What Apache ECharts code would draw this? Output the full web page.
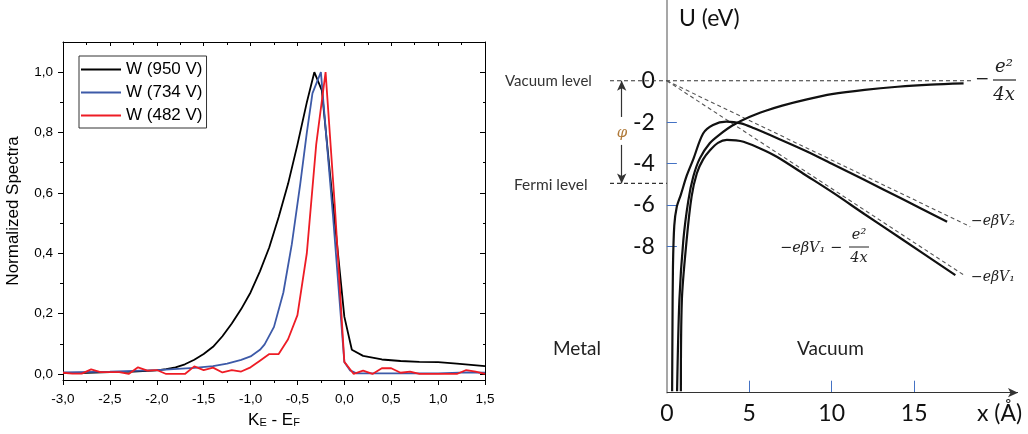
<!DOCTYPE html>
<html><head><meta charset="utf-8">
<script src="https://cdn.jsdelivr.net/npm/echarts@6/dist/echarts.min.js"></script>
<style>html,body{margin:0;padding:0;background:#fff}#c{width:1028px;height:434px}</style>
</head><body><div id="c"></div>
<script>
// ---------- Left panel: normalized spectra ----------
const seriesNames = ['W (950 V)', 'W (734 V)', 'W (482 V)'];
const blackX = [-3.0,-2.75,-2.5,-2.25,-2.0,-1.9,-1.8,-1.7,-1.6,-1.5,-1.4,-1.3,-1.2,-1.1,-1.0,-0.9,-0.8,-0.7,-0.6,-0.5,-0.4,-0.32,-0.24,-0.12,0.0,0.08,0.2,0.4,0.6,0.8,1.0,1.2,1.5];
const blackY = [0.003,0.004,0.006,0.008,0.012,0.016,0.022,0.032,0.047,0.066,0.09,0.125,0.167,0.215,0.27,0.34,0.42,0.52,0.63,0.76,0.9,1.0,0.94,0.56,0.19,0.08,0.06,0.048,0.043,0.04,0.039,0.034,0.026];
const blueX = [-3.0,-2.5,-2.0,-1.6,-1.4,-1.25,-1.1,-1.0,-0.9,-0.85,-0.75,-0.65,-0.56,-0.47,-0.40,-0.34,-0.25,-0.12,0.0,0.06,0.13,0.5,1.0,1.3,1.5];
const blueY = [0.005,0.008,0.013,0.02,0.026,0.034,0.047,0.058,0.08,0.098,0.156,0.27,0.43,0.63,0.8,0.93,1.0,0.52,0.04,0.012,0.002,0.002,0.002,0.005,0.004];
const redX = [-3.0,-2.9,-2.8,-2.7,-2.6,-2.5,-2.4,-2.3,-2.2,-2.1,-2.0,-1.9,-1.8,-1.7,-1.6,-1.5,-1.4,-1.3,-1.2,-1.1,-1.0,-0.9,-0.8,-0.7,-0.6,-0.5,-0.4,-0.3,-0.2,-0.1,0.0,0.1,0.2,0.3,0.4,0.5,0.6,0.7,0.8,0.9,1.0,1.1,1.2,1.3,1.4,1.5];
const redY = [0.004,0.001,0.001,0.015,0.006,0.006,0.006,0.0,0.022,0.011,0.013,0.0,0.0,0.0,0.025,0.013,0.021,0.005,0.013,0.008,0.022,0.044,0.066,0.066,0.115,0.195,0.40,0.76,1.0,0.55,0.04,0.0,0.011,0.0,0.019,0.019,0.004,0.008,0.0,0.0,0.0,0.0,0.0,0.013,0.008,0.0];
const leftYMajor = [0, 0.2, 0.4, 0.6, 0.8, 1.0];
const leftYMinor = [0.1, 0.3, 0.5, 0.7, 0.9];

// ---------- Right panel: potential energy diagram ----------
const imageX = [0.62,0.76,1.0,1.3,1.6,2.0,2.6,3.2,4.0,5.0,6.0,7.0,8.5,10.0,12.0,14.0,16.0,18.0];
const imageU = [-15,-10.6,-7.7,-5.8,-4.64,-3.75,-3.02,-2.6,-2.15,-1.75,-1.45,-1.2,-0.9,-0.65,-0.44,-0.29,-0.19,-0.13];
const v2X = [0.32,0.34,0.37,0.45,0.6,0.85,1.2,1.6,2.2,2.8,3.6,4.5,5.3,6.7,8.5,10.1,12.0,14.2,17.0];
const v2U = [-15,-12,-9,-7,-6.1,-5.5,-4.6,-3.8,-2.55,-2.14,-1.98,-2.06,-2.3,-2.78,-3.42,-4.05,-4.8,-5.68,-6.81];
const v1X = [0.85,0.91,1.2,1.5,1.82,2.2,2.63,3.1,3.64,4.2,4.65,5.66,6.67,8.5,10.1,12.0,14.2,17.5];
const v1U = [-15,-10.6,-7.7,-5.6,-4.47,-3.8,-3.35,-3.0,-2.86,-2.88,-2.95,-3.27,-3.67,-4.6,-5.42,-6.45,-7.62,-9.39];
const lineV2 = [[0, 0], [18.4, -7.05]];
const lineV1 = [[0, 0], [18.1, -9.43]];
const vacuumLevel = [[-3.45, 0], [18.57, 0]];
const fermiLevel = [[-3.45, -4.96], [0, -4.96]];
const phiX = -2.74;
const rightYLabels = [0, -2, -4, -6, -8];
const rightYTicks = [-2, -4, -6, -8];
const rightXLabels = [0, 5, 10, 15];
const rightXTicks = [5, 10, 15];
const uMin = -15.07, uMax = 3.9, xMin = -10, xMax = 21.3;

const zip = (xs, ys) => xs.map((x, i) => [x, ys[i]]);
const sans = '"Liberation Sans", Arial, sans-serif';
const calib = 'Lato, "Open Sans", sans-serif';
const mathF = '"DejaVu Serif", serif';
const comma = v => v.toFixed(1).replace('.', ',');
const blueTick = '#4472c4';

const g1 = {left: 502, right: 10, top: 0, bottom: 434 - 392.7};
const g1Width = 1028 - g1.left - g1.right;
// place the potential axis on x = 0 of the distance axis
const yAxisShift = -(0 - xMin) / (xMax - xMin) * g1Width;

const chart = echarts.init(document.getElementById('c'), null, {renderer: 'canvas'});
const option = {
  animation: false,
  backgroundColor: '#fff',
  grid: [
    {left: 63, right: 1028 - 485, top: 42, bottom: 434 - 380},
    g1
  ],
  legend: {
    left: 79, top: 56, orient: 'vertical', data: seriesNames, icon: 'rect',
    borderColor: '#333', borderWidth: 1, borderRadius: 0, padding: [5, 4, 4, 2],
    itemWidth: 40, itemHeight: 2, itemGap: 6,
    textStyle: {fontSize: 17, lineHeight: 15, fontFamily: sans, color: '#000'}
  },
  xAxis: [
    {gridIndex: 0, type: 'value', min: -3, max: 1.5, interval: 0.5, position: 'bottom',
     axisLine: {onZero: false, lineStyle: {color: '#000', width: 1}},
     axisTick: {length: 5, lineStyle: {color: '#000'}},
     minorTick: {show: true, splitNumber: 2, length: 3, lineStyle: {color: '#000'}},
     splitLine: {show: false},
     axisLabel: {formatter: comma, margin: 12, fontSize: 13.5, fontFamily: sans, color: '#000'},
     name: '{a|K}{s|E}{a| - E}{s|F}', nameLocation: 'middle', nameGap: 32,
     nameTextStyle: {rich: {
       a: {fontSize: 17, fontFamily: sans, color: '#000', padding: [0, 0, 5, 0]},
       s: {fontSize: 11, fontFamily: sans, color: '#000'}
     }}},
    {gridIndex: 0, type: 'value', min: -3, max: 1.5, interval: 0.5, position: 'top',
     axisLine: {onZero: false, lineStyle: {color: '#000', width: 1}},
     axisTick: {inside: true, length: 4, lineStyle: {color: '#000'}},
     minorTick: {show: true, splitNumber: 2, length: 3, lineStyle: {color: '#000'}},
     splitLine: {show: false}, axisLabel: {show: false}},
    {gridIndex: 1, type: 'value', min: xMin, max: xMax, position: 'bottom',
     axisLine: {show: false, onZero: false},
     axisTick: {customValues: rightXTicks, inside: true, length: 12, lineStyle: {color: blueTick, width: 1}},
     axisLabel: {customValues: rightXLabels, margin: 9, fontSize: 23, fontFamily: calib, color: '#111'},
     splitLine: {show: false}}
  ],
  yAxis: [
    {gridIndex: 0, type: 'value', min: -0.02, max: 1.1, position: 'left',
     axisLine: {show: true, onZero: false, lineStyle: {color: '#000', width: 1}},
     axisTick: {customValues: leftYMajor, length: 5, lineStyle: {color: '#000'}},
     axisLabel: {customValues: leftYMajor, formatter: comma, margin: 10, fontSize: 13.5, fontFamily: sans, color: '#000'},
     splitLine: {show: false},
     name: 'Normalized Spectra', nameLocation: 'middle', nameGap: 41,
     nameTextStyle: {fontSize: 17, fontFamily: sans, color: '#000'}},
    {gridIndex: 0, type: 'value', min: -0.02, max: 1.1, position: 'left',
     axisLine: {show: false, onZero: false},
     axisTick: {customValues: leftYMinor, length: 3, lineStyle: {color: '#000'}},
     axisLabel: {show: false}, splitLine: {show: false}},
    {gridIndex: 0, type: 'value', min: -0.02, max: 1.1, position: 'right',
     axisLine: {show: true, onZero: false, lineStyle: {color: '#000', width: 1}},
     axisTick: {customValues: leftYMajor, inside: true, length: 5, lineStyle: {color: '#000'}},
     axisLabel: {show: false}, splitLine: {show: false}},
    {gridIndex: 0, type: 'value', min: -0.02, max: 1.1, position: 'right',
     axisLine: {show: false, onZero: false},
     axisTick: {customValues: leftYMinor, inside: true, length: 2, lineStyle: {color: '#000'}},
     axisLabel: {show: false}, splitLine: {show: false}},
    {gridIndex: 1, type: 'value', min: uMin, max: uMax, position: 'left', offset: yAxisShift,
     axisLine: {show: true, onZero: false, lineStyle: {color: '#8a8a8a', width: 1.5}},
     axisTick: {customValues: rightYTicks, inside: true, length: 10, lineStyle: {color: blueTick, width: 1}},
     axisLabel: {customValues: rightYLabels, margin: 12, fontSize: 23, fontFamily: calib, color: '#111'},
     splitLine: {show: false}}
  ],
  series: [
    {name: seriesNames[0], type: 'line', xAxisIndex: 0, yAxisIndex: 0, data: zip(blackX, blackY),
     symbol: 'none', lineStyle: {color: '#000', width: 1.8}, itemStyle: {color: '#000'}},
    {name: seriesNames[1], type: 'line', xAxisIndex: 0, yAxisIndex: 0, data: zip(blueX, blueY),
     symbol: 'none', lineStyle: {color: '#3d5aa8', width: 1.8}, itemStyle: {color: '#3d5aa8'}},
    {name: seriesNames[2], type: 'line', xAxisIndex: 0, yAxisIndex: 0, data: zip(redX, redY),
     symbol: 'none', lineStyle: {color: '#ee1c25', width: 1.8}, itemStyle: {color: '#ee1c25'}},
    // right panel
    {type: 'line', xAxisIndex: 2, yAxisIndex: 4, data: vacuumLevel, symbol: 'none', silent: true,
     lineStyle: {color: '#333', width: 1.1, type: [4, 3]}},
    {type: 'line', xAxisIndex: 2, yAxisIndex: 4, data: fermiLevel, symbol: 'none', silent: true,
     lineStyle: {color: '#333', width: 1.1, type: [4, 3]}},
    {type: 'line', xAxisIndex: 2, yAxisIndex: 4, data: lineV2, symbol: 'none', silent: true,
     lineStyle: {color: '#555', width: 1.1, type: [4, 3]}},
    {type: 'line', xAxisIndex: 2, yAxisIndex: 4, data: lineV1, symbol: 'none', silent: true,
     lineStyle: {color: '#555', width: 1.1, type: [4, 3]}},
    {type: 'line', xAxisIndex: 2, yAxisIndex: 4, data: zip(imageX, imageU), symbol: 'none', silent: true,
     smooth: 0.3, lineStyle: {color: '#111', width: 2.2}},
    {type: 'line', xAxisIndex: 2, yAxisIndex: 4, data: zip(v2X, v2U), symbol: 'none', silent: true,
     smooth: 0.3, lineStyle: {color: '#111', width: 2.2}},
    {type: 'line', xAxisIndex: 2, yAxisIndex: 4, data: zip(v1X, v1U), symbol: 'none', silent: true,
     smooth: 0.3, lineStyle: {color: '#111', width: 2.2}},
    {type: 'line', xAxisIndex: 2, yAxisIndex: 4, data: [], symbol: 'none', silent: true,
     markLine: {silent: true, symbol: ['none', 'arrow'], symbolSize: [7, 10], label: {show: false},
       lineStyle: {color: '#333', width: 1.2, type: 'solid'},
       data: [
         [{coord: [phiX, -1.75]}, {coord: [phiX, 0]}],
         [{coord: [phiX, -3.1]}, {coord: [phiX, -4.96]}],
         [{coord: [0, uMin]}, {coord: [xMax, uMin]}]
       ]}}
  ],
  graphic: [
    {type: 'text', x: 679, y: 19, style: {text: 'U (eV)', font: '23px ' + calib, fill: '#111', verticalAlign: 'middle'}},
    {type: 'text', x: 505, y: 81, style: {text: 'Vacuum level', font: '15px ' + calib, fill: '#333', verticalAlign: 'middle'}},
    {type: 'text', x: 514, y: 185, style: {text: 'Fermi level', font: '15.5px ' + calib, fill: '#333', verticalAlign: 'middle'}},
    {type: 'text', x: 553, y: 349, style: {text: 'Metal', font: '19px ' + calib, fill: '#222', verticalAlign: 'middle'}},
    {type: 'text', x: 797, y: 349, style: {text: 'Vacuum', font: '19px ' + calib, fill: '#222', verticalAlign: 'middle'}},
    {type: 'text', x: 977, y: 414, style: {text: 'x (Å)', font: '23px ' + calib, fill: '#111', verticalAlign: 'middle'}},
    {type: 'text', x: 622, y: 133, style: {text: 'φ', font: 'italic 15px ' + mathF, fill: '#b07a3a', align: 'center', verticalAlign: 'middle'}},
    // -e^2/4x
    {type: 'text', x: 982, y: 80, style: {text: '−', font: '17px ' + mathF, fill: '#222', align: 'center', verticalAlign: 'middle'}},
    {type: 'text', x: 1004, y: 67, style: {text: 'e²', font: 'italic 18px ' + mathF, fill: '#222', align: 'center', verticalAlign: 'middle'}},
    {type: 'line', shape: {x1: 993, y1: 80, x2: 1016, y2: 80}, style: {stroke: '#222', lineWidth: 1.2}},
    {type: 'text', x: 1004, y: 95, style: {text: '4x', font: 'italic 18px ' + mathF, fill: '#222', align: 'center', verticalAlign: 'middle'}},
    // -eβV2, -eβV1
    {type: 'text', x: 971, y: 221, style: {text: '−eβV₂', font: 'italic 14px ' + mathF, fill: '#222', verticalAlign: 'middle'}},
    {type: 'text', x: 971, y: 277, style: {text: '−eβV₁', font: 'italic 14px ' + mathF, fill: '#222', verticalAlign: 'middle'}},
    // -eβV1 - e^2/4x
    {type: 'text', x: 780, y: 248, style: {text: '−eβV₁ −', font: 'italic 14.5px ' + mathF, fill: '#222', verticalAlign: 'middle'}},
    {type: 'text', x: 859, y: 235, style: {text: 'e²', font: 'italic 14.5px ' + mathF, fill: '#222', align: 'center', verticalAlign: 'middle'}},
    {type: 'line', shape: {x1: 849, y1: 247, x2: 869, y2: 247}, style: {stroke: '#222', lineWidth: 1}},
    {type: 'text', x: 859, y: 258, style: {text: '4x', font: 'italic 14.5px ' + mathF, fill: '#222', align: 'center', verticalAlign: 'middle'}}
  ]
};
chart.setOption(option);
</script>
</body></html>
